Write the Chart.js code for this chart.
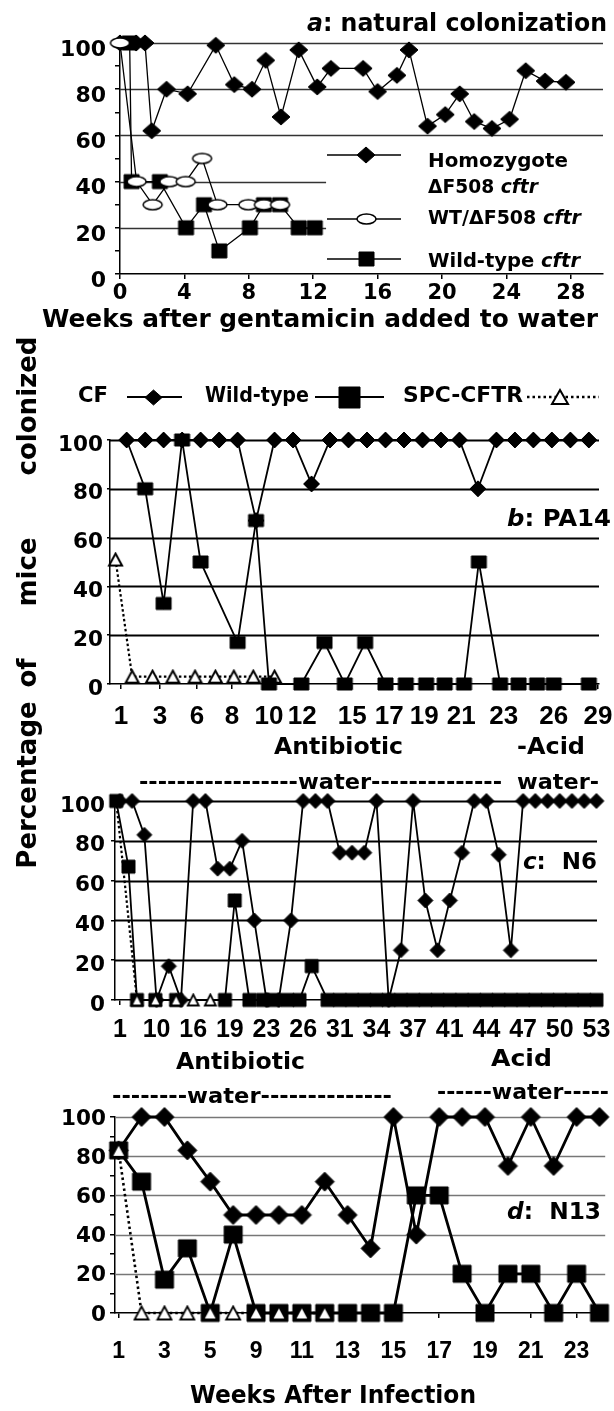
<!DOCTYPE html>
<html>
<head>
<meta charset="utf-8">
<title>Percentage of mice colonized</title>
<script src="https://cdn.jsdelivr.net/npm/chart.js"></script>
<style>
  body { margin: 0; background: #fff; }
  #page { position: relative; width: 614px; height: 1411px; overflow: hidden; background: #fff; }
  #page canvas { position: absolute; left: 0; }
  .ytitle { position: absolute; left: 27px; font: bold 26px "DejaVu Sans", sans-serif; white-space: nowrap;
            transform: translate(-50%, -50%) rotate(-90deg); }
</style>
</head>
<body>
<div id="page">
  <canvas id="chartA" width="614" height="340" style="top:0px"></canvas>
  <canvas id="chartB" width="614" height="395" style="top:340px"></canvas>
  <canvas id="chartC" width="614" height="310" style="top:735px"></canvas>
  <canvas id="chartD" width="614" height="366" style="top:1045px"></canvas>
  <div class="ytitle" style="top:406px">colonized</div>
  <div class="ytitle" style="top:572px">mice</div>
  <div class="ytitle" style="top:673px">of</div>
  <div class="ytitle" style="top:785px">Percentage</div>
</div>
<script>
// ---- a: natural colonization (x = weeks after gentamicin) ----
var homoWeeks = [0, 1, 1.55, 1.97, 2.89, 4.2, 5.95, 7.1, 8.2, 9.05, 10.0, 11.1, 12.25, 13.1, 15.1, 16.0, 17.2, 17.95, 19.1, 20.2, 21.1, 22.0, 23.1, 24.2, 25.2, 26.4, 27.7];
var homoPct   = [100, 100, 100, 62, 80, 78, 99, 82, 80, 92.5, 68, 97, 81, 89, 89, 79, 86, 97, 64, 69, 78, 66, 63, 67, 88, 83.5, 83];
var hetWeeks  = [0, 1.03, 2.03, 3.06, 4.08, 5.1, 6.05, 7.97, 8.94, 9.94];
var hetPct    = [100, 40, 30, 40, 40, 50, 30, 30, 30, 30];
var wtWeeksA  = [0.6, 0.72, 2.48, 4.1, 5.22, 6.17, 8.07, 8.94, 9.94, 11.1, 12.1];
var wtPctA    = [100, 40, 40, 20, 30, 10, 20, 30, 30, 20, 20];
var weekTicksA = [0, 4, 8, 12, 16, 20, 24, 28];

// ---- b: PA14 (x = sampling number, evenly spaced) ----
var cfB = [100, 100, 100, 100, 100, 100, 100, 67, 100, 100, 82, 100, 100, 100, 100, 100, 100, 100, 100, 80, 100, 100, 100, 100, 100, 100];
var wtPosB = [0, 1, 2, 3, 4, 6, 7, 7.7, 9.45, 10.7, 11.8, 12.9, 14, 15.1, 16.2, 17.2, 18.25, 19.05, 20.2, 21.2, 22.2, 23.1, 25];
var wtB    = [100, 80, 33, 100, 50, 17, 67, 0, 0, 17, 0, 17, 0, 0, 0, 0, 0, 50, 0, 0, 0, 0, 0];
var spcPosB = [-0.6, 0.3, 1.4, 2.5, 3.7, 4.8, 5.8, 6.85, 8.0];
var spcB    = [51, 3, 3, 3, 3, 3, 3, 3, 3];
var tickPosB    = [-0.3, 1.8, 3.8, 5.7, 7.7, 9.5, 12.2, 14.2, 16.1, 18.1, 20.4, 23.1, 25.5];
var tickLabelsB = ['1', '3', '6', '8', '10', '12', '15', '17', '19', '21', '23', '26', '29'];

// ---- c: N6 ----
var cfC = [100, 100, 83, 0, 17, 0, 100, 100, 66, 66,
           80, 40, 0, 0, 40, 100, 100, 100, 74, 74,
           74, 100, 0, 25, 100, 50, 25, 50, 74, 100,
           100, 73, 25, 100, 100, 100, 100, 100, 100, 100];
var wtPosC = [-0.3, 0.7, 1.4, 2.9, 4.6, 8.6, 9.4, 10.6, 11.7, 12.6, 13.7, 14.7, 15.7,
              17, 18, 19, 20, 21, 22, 23, 24, 25, 26, 27, 28, 29, 30, 31, 32, 33, 34, 35, 36, 37, 38, 39];
var wtC    = [100, 67, 0, 0, 0, 0, 50, 0, 0, 0, 0, 0, 17,
              0, 0, 0, 0, 0, 0, 0, 0, 0, 0, 0, 0, 0, 0, 0, 0, 0, 0, 0, 0, 0, 0, 0];
var spcPosC = [-0.3, 1.4, 2.9, 4.6, 6.0, 7.4];
var spcC    = [100, 0, 0, 0, 0, 0];
var tickPosC    = [0, 3, 6, 9, 12, 15, 18, 21, 24, 27, 30, 33, 36, 39];
var tickLabelsC = ['1', '10', '16', '19', '23', '26', '31', '34', '37', '41', '44', '47', '50', '53'];

// ---- d: N13 ----
var cfD  = [83, 100, 100, 83, 67, 50, 50, 50, 50, 67, 50, 33, 100, 40, 100, 100, 100, 75, 100, 75, 100, 100];
var wtD  = [83, 67, 17, 33, 0, 40, 0, 0, 0, 0, 0, 0, 0, 60, 60, 20, 0, 20, 20, 0, 20, 0];
var spcD = [83, 0, 0, 0, 0, 0, 0, 0, 0, 0];
var tickPosD    = [0, 2, 4, 6, 8, 10, 12, 14, 16, 18, 20];
var tickLabelsD = ['1', '3', '5', '9', '11', '13', '15', '17', '19', '21', '23'];

var gridValues = [20, 40, 60, 80, 100];
var FAM = '"DejaVu Sans", sans-serif';

function pts(xs, ys) { return ys.map(function (y, i) { return {x: xs[i], y: y}; }); }
function seq(ys) { return ys.map(function (y, i) { return {x: i, y: y}; }); }

// marker pictures
function mark(shape, w, h, filled, lw) {
  var c = document.createElement('canvas');
  c.width = w + 4; c.height = h + 4;
  var g = c.getContext('2d');
  var x = c.width / 2, y = c.height / 2;
  g.fillStyle = filled ? '#000' : '#fff';
  g.strokeStyle = '#000';
  g.lineWidth = lw || 1;
  g.beginPath();
  if (shape == 'diamond') { g.moveTo(x, y - h / 2); g.lineTo(x + w / 2, y); g.lineTo(x, y + h / 2); g.lineTo(x - w / 2, y); }
  else if (shape == 'rect') { g.rect(x - w / 2, y - h / 2, w, h); }
  else if (shape == 'ellipse') { g.ellipse(x, y, w / 2, h / 2, 0, 0, 2 * Math.PI); }
  else if (shape == 'tri') { g.moveTo(x, y - h / 2); g.lineTo(x + w / 2, y + h / 2); g.lineTo(x - w / 2, y + h / 2); }
  g.closePath(); g.fill(); g.stroke();
  return c;
}
function hideFirst(m) { return function (c) { return c.dataIndex === 0 ? false : m; }; }

function series(data, marker, lw, dash, order) {
  return {
    data: data, borderColor: '#000', borderWidth: lw, borderDash: dash || [],
    pointStyle: marker, pointRadius: 6, pointHoverRadius: 6,
    tension: 0, fill: false, spanGaps: true, clip: false, order: order
  };
}

function yAxis(width, step, pad, offset, tick, size) {
  return {
    min: 0, max: 100,
    afterFit: function (s) { s.width = width; },
    ticks: {
      stepSize: step, autoSkip: false, color: '#000', padding: pad, labelOffset: offset,
      font: {family: FAM, weight: 'bold', size: size},
      callback: function (v) { return v % 20 === 0 ? v : ''; }
    },
    grid: {drawOnChartArea: false, tickLength: tick, color: '#000', lineWidth: 1.5},
    border: {color: '#000', width: 1.5}
  };
}
function xAxis(min, max, pos, labels, height, font, pad) {
  return {
    type: 'linear', min: min, max: max,
    afterBuildTicks: function (s) { s.ticks = pos.map(function (v) { return {value: v}; }); },
    afterFit: function (s) { s.height = height; s.paddingLeft = 0; s.paddingRight = 0; },
    ticks: {
      autoSkip: false, maxRotation: 0, minRotation: 0, color: '#000', padding: pad, font: font,
      callback: function (v, i) { return labels[i]; }
    },
    grid: {drawOnChartArea: false, tickLength: 5, color: '#000', lineWidth: 1.5},
    border: {color: '#000', width: 1.5}
  };
}
function opts(top, right, scales) {
  return {
    responsive: false, animation: false, events: [],
    layout: {padding: {left: 0, top: top, right: right, bottom: 0}},
    plugins: {legend: {display: false}, tooltip: {enabled: false}},
    scales: scales
  };
}

// text drawn left-aligned from x, squeezed or stretched to width w
function drawText(ctx, t) {
  ctx.save();
  ctx.fillStyle = '#000';
  ctx.textBaseline = 'middle';
  var widths = [], total = 0;
  t.parts.forEach(function (p) {
    ctx.font = (p[1] ? 'italic ' : '') + 'bold ' + t.size + 'px ' + FAM;
    var w = ctx.measureText(p[0]).width;
    widths.push(w); total += w;
  });
  ctx.translate(t.x, t.y);
  ctx.scale(t.w / total, 1);
  var cx = 0;
  t.parts.forEach(function (p, i) {
    ctx.font = (p[1] ? 'italic ' : '') + 'bold ' + t.size + 'px ' + FAM;
    ctx.fillText(p[0], cx, 0);
    cx += widths[i];
  });
  ctx.restore();
}
function drawKey(ctx, k) {
  ctx.save();
  ctx.strokeStyle = '#000';
  ctx.lineWidth = k.lw;
  ctx.setLineDash(k.dash || []);
  ctx.beginPath(); ctx.moveTo(k.x1, k.y); ctx.lineTo(k.x2, k.y); ctx.stroke();
  ctx.drawImage(k.m, Math.round(k.mx - k.m.width / 2), Math.round(k.y - k.m.height / 2));
  ctx.restore();
}

// horizontal grid lines, panel labels, keys
function extras(cfg) {
  return {
    id: 'extras',
    beforeDatasetsDraw: function (chart) {
      var ctx = chart.ctx, a = chart.chartArea, xs = chart.scales.x, ys = chart.scales.y;
      ctx.save();
      ctx.strokeStyle = cfg.gridColor;
      ctx.lineWidth = cfg.gridWidth;
      gridValues.forEach(function (v) {
        var y = Math.round(ys.getPixelForValue(v)) + 0.5;
        var end = cfg.gridEnd && cfg.gridEnd[v] != null ? xs.getPixelForValue(cfg.gridEnd[v]) : a.right;
        ctx.beginPath(); ctx.moveTo(a.left, y); ctx.lineTo(end, y); ctx.stroke();
      });
      ctx.restore();
    },
    afterDraw: function (chart) {
      var ctx = chart.ctx;
      (cfg.keys || []).forEach(function (k) { drawKey(ctx, k); });
      (cfg.texts || []).forEach(function (t) { drawText(ctx, t); });
    }
  };
}

// ---------- panel a ----------
var diaA = mark('diamond', 18, 16, true, 1), ellA = mark('ellipse', 19, 10, false, 1.5), sqA = mark('rect', 15, 14, true, 1);
new Chart(document.getElementById('chartA'), {
  type: 'line',
  data: {datasets: [
    series(pts(hetWeeks, hetPct), ellA, 1.3, null, 0),
    series(pts(wtWeeksA, wtPctA), sqA, 1.3, null, 1),
    series(pts(homoWeeks, homoPct), diaA, 1.3, null, 2)
  ]},
  options: opts(43, 11, {
    x: xAxis(0, 30, weekTicksA, weekTicksA, 66, {family: FAM, weight: 'bold', size: 21}, 2),
    y: yAxis(120, 10, 9, 7, 5, 22)
  }),
  plugins: [extras({
    gridColor: '#333', gridWidth: 1.3, gridEnd: {20: 12.8, 40: 12.8},
    keys: [
      {x1: 327, x2: 401, y: 155, mx: 366, m: diaA, lw: 1.5},
      {x1: 327, x2: 401, y: 219, mx: 366, m: ellA, lw: 1.5},
      {x1: 327, x2: 401, y: 259, mx: 366, m: sqA, lw: 1.5}
    ],
    texts: [
      {parts: [['a', 1], [': natural colonization', 0]], x: 307, y: 25, w: 300, size: 24},
      {parts: [['Homozygote', 0]], x: 428, y: 162, w: 140, size: 20},
      {parts: [['\u0394F508 ', 0], ['cftr', 1]], x: 428, y: 188, w: 110, size: 20},
      {parts: [['WT/\u0394F508 ', 0], ['cftr', 1]], x: 428, y: 219, w: 153, size: 20},
      {parts: [['Wild-type ', 0], ['cftr', 1]], x: 428, y: 262, w: 152, size: 20},
      {parts: [['Weeks after gentamicin added to water', 0]], x: 42, y: 320, w: 556, size: 25}
    ]
  })]
});

// ---------- panel b ----------
var diaB = mark('diamond', 16, 16, true, 1), rectB = mark('rect', 15, 12, true, 1), triB = mark('tri', 13, 12, false, 2);
new Chart(document.getElementById('chartB'), {
  type: 'line',
  data: {datasets: [
    series(seq(cfB), diaB, 1.8, null, 0),
    series(pts(wtPosB, wtB), hideFirst(rectB), 1.8, null, 1),
    series(pts(spcPosB, spcB), triB, 2.2, [2.5, 2.5], 2)
  ]},
  options: opts(100, 15, {
    x: xAxis(-0.9, 25.55, tickPosB, tickLabelsB, 51, {family: '"Liberation Sans", sans-serif', weight: 'bold', size: 26}, 12),
    y: yAxis(110, 20, 4, 5, 3, 21.5)
  }),
  plugins: [extras({
    gridColor: '#000', gridWidth: 1.8,
    keys: [
      {x1: 127, x2: 182, y: 57, mx: 153, m: mark('diamond', 17, 15, true, 1), lw: 2.2},
      {x1: 315, x2: 384, y: 57, mx: 349, m: mark('rect', 21, 21, true, 1), lw: 2.2},
      {x1: 527, x2: 599, y: 57, mx: 560, m: mark('tri', 16, 14, false, 2), lw: 2.5, dash: [2.5, 3]}
    ],
    texts: [
      {parts: [['CF', 0]], x: 78, y: 57, w: 30, size: 21},
      {parts: [['Wild-type', 0]], x: 205, y: 57, w: 104, size: 21},
      {parts: [['SPC-CFTR', 0]], x: 403, y: 57, w: 120, size: 21},
      {parts: [['b', 1], [': PA14', 0]], x: 507, y: 180, w: 104, size: 23}
    ]
  })]
});

// ---------- panel c ----------
var diaC = mark('diamond', 15, 15, true, 1), sqC = mark('rect', 13, 13, true, 1), triC = mark('tri', 11, 11, false, 1.8);
new Chart(document.getElementById('chartC'), {
  type: 'line',
  data: {datasets: [
    series(pts(spcPosC, spcC), hideFirst(triC), 2.2, [2.5, 2.5], 0),
    series(pts(wtPosC, wtC), sqC, 1.8, null, 1),
    series(seq(cfC), diaC, 1.8, null, 2)
  ]},
  options: opts(66, 17, {
    x: xAxis(-0.4, 39.05, tickPosC, tickLabelsC, 45, {family: '"Liberation Sans", sans-serif', weight: 'bold', size: 25}, 10),
    y: yAxis(115, 20, 6, 5, 4, 21.5)
  }),
  plugins: [extras({
    gridColor: '#000', gridWidth: 1.8,
    texts: [
      {parts: [['Antibiotic', 0]], x: 274, y: 13, w: 129, size: 23},
      {parts: [['-Acid', 0]], x: 517, y: 13, w: 68, size: 23},
      {parts: [['-----------------water--------------', 0]], x: 139, y: 48, w: 363, size: 22},
      {parts: [['water-', 0]], x: 517, y: 48, w: 82, size: 22},
      {parts: [['c', 1], [':  N6', 0]], x: 523, y: 128, w: 74, size: 23}
    ]
  })]
});

// ---------- panel d ----------
var diaD = mark('diamond', 19, 19, true, 1), sqD = mark('rect', 18, 17, true, 1), triD = mark('tri', 14, 13, false, 1.8);
new Chart(document.getElementById('chartD'), {
  type: 'line',
  data: {datasets: [
    series(seq(spcD), triD, 2.6, [2.5, 3], 0),
    series(seq(wtD), sqD, 2.8, null, 1),
    series(seq(cfD), diaD, 2.8, null, 2)
  ]},
  options: opts(72, 0, {
    x: xAxis(-0.16, 21.25, tickPosD, tickLabelsD, 98, {family: '"Liberation Sans", sans-serif', weight: 'bold', size: 23}, 20),
    y: yAxis(115, 10, 4, 2, 5, 21.5)
  }),
  plugins: [extras({
    gridColor: '#777', gridWidth: 1.5,
    texts: [
      {parts: [['Antibiotic', 0]], x: 176, y: 18, w: 129, size: 23},
      {parts: [['Acid', 0]], x: 491, y: 15, w: 61, size: 23},
      {parts: [['--------water--------------', 0]], x: 112, y: 52, w: 280, size: 22},
      {parts: [['------water-----', 0]], x: 437, y: 48, w: 172, size: 22},
      {parts: [['d', 1], [':  N13', 0]], x: 507, y: 168, w: 94, size: 23},
      {parts: [['Weeks After Infection', 0]], x: 190, y: 352, w: 286, size: 24}
    ]
  })]
});
</script>
</body>
</html>
